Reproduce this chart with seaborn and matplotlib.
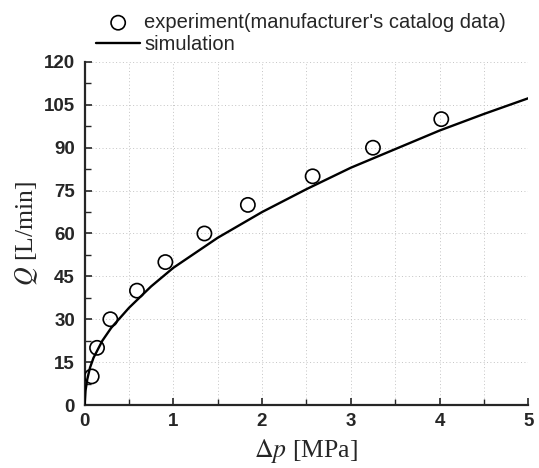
import matplotlib
matplotlib.use("Agg")
import matplotlib.pyplot as plt
from matplotlib.ticker import MultipleLocator
import numpy as np
import pandas as pd
import seaborn as sns

# Catalog flow data: pressure drop [MPa] vs flow rate [L/min]
exp_dp = [0.08, 0.14, 0.29, 0.59, 0.91, 1.35, 1.84, 2.57, 3.25, 4.02]
exp_q = [10, 20, 30, 40, 50, 60, 70, 80, 90, 100]

# Simulated characteristic
sim_dp = [0.0, 0.01, 0.03, 0.06, 0.1, 0.2, 0.3, 0.5, 0.75, 1.0, 1.5, 2.0,
          2.5, 3.0, 3.5, 4.0, 4.5, 5.0]
sim_q = [0.0, 5.0, 9.0, 13.0, 16.5, 22.5, 27.0, 34.0, 41.5, 48.0, 58.5, 67.5,
         75.5, 83.0, 89.5, 96.0, 101.8, 107.3]

x_ticks = [0, 1, 2, 3, 4, 5]
y_ticks = [0, 15, 30, 45, 60, 75, 90, 105, 120]

exp_df = pd.DataFrame({"dp": exp_dp, "q": exp_q})
sim_df = pd.DataFrame({"dp": sim_dp, "q": sim_q})

sns.set_style("ticks")
plt.rcParams["font.family"] = ["Liberation Sans", "DejaVu Sans"]
plt.rcParams["mathtext.fontset"] = "stix"

fig = plt.figure(figsize=(5.39, 4.68), dpi=100)
ax = fig.add_axes([0.157, 0.1346, 0.823, 0.733])

sns.lineplot(data=sim_df, x="dp", y="q", ax=ax, color="black", linewidth=1.7,
             label="simulation", sort=False, zorder=3)
sns.scatterplot(data=exp_df, x="dp", y="q", ax=ax, marker="o", s=105,
                facecolor="none", edgecolor="black", linewidth=1.2,
                label="experiment(manufacturer's catalog data)", zorder=4)

ax.set_xlim(0, 5)
ax.set_ylim(0, 120)
ax.set_xticks(x_ticks)
ax.set_yticks(y_ticks)
ax.xaxis.set_minor_locator(MultipleLocator(0.5))
ax.yaxis.set_minor_locator(MultipleLocator(7.5))

for lab in ax.get_xticklabels() + ax.get_yticklabels():
    lab.set_fontweight("bold")
    lab.set_fontsize(13.5)

ax.tick_params(which="major", direction="in", length=5, width=1.2)
ax.tick_params(axis="y", which="major", pad=7)
ax.tick_params(axis="x", which="major", pad=6)
ax.tick_params(which="minor", direction="in", length=4, width=1.0)

sns.despine(ax=ax)
for side in ("left", "bottom"):
    ax.spines[side].set_linewidth(1.6)

ax.grid(True, which="major", axis="y", color="#c4c4c4", linestyle=(0, (1, 2.5)),
        linewidth=0.7)
ax.grid(True, which="both", axis="x", color="#c4c4c4", linestyle=(0, (1, 2.5)),
        linewidth=0.7)
ax.set_axisbelow(True)

ax.set_xlabel(r"$\Delta p$ [MPa]", fontfamily="Liberation Serif", fontsize=18.5,
              labelpad=5)
ax.set_ylabel(r"$Q$ [L/min]", fontfamily="Liberation Serif", fontsize=18.5,
              labelpad=3)

handles, labels = ax.get_legend_handles_labels()
order = [1, 0]
ax.legend([handles[i] for i in order], [labels[i] for i in order],
          loc="upper left", bbox_to_anchor=(96 / 539, 1 - 13 / 468),
          bbox_transform=fig.transFigure, frameon=False, fontsize=14.5,
          borderpad=0, borderaxespad=0, handlelength=2.2, handletextpad=0.2,
          labelspacing=0.15)

fig.savefig("out.png", dpi=100)
